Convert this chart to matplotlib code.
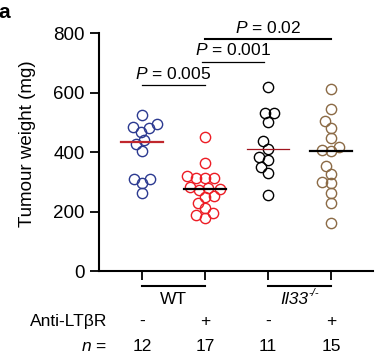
import numpy as np
import matplotlib
matplotlib.use("Agg")
import matplotlib.pyplot as plt

plt.rcParams['font.family'] = ['Liberation Sans', 'DejaVu Sans']
plt.rcParams['mathtext.fontset'] = 'custom'
plt.rcParams['mathtext.it'] = 'Liberation Sans:italic'
plt.rcParams['mathtext.rm'] = 'Liberation Sans'

# tumour weights (mg) per group
wt_ctrl = [524, 468, 480, 483, 494, 427, 440, 404, 308, 297, 308, 261]
wt_anti = [451, 362, 312, 319, 312, 314, 272, 278, 275, 283, 230, 250, 252, 211, 180, 188, 194]
il33_ctrl = [620, 530, 532, 502, 438, 412, 375, 384, 349, 330, 255]
il33_anti = [611, 544, 505, 482, 449, 407, 404, 416, 353, 328, 295, 300, 261, 228, 162]
groups = [wt_ctrl, wt_anti, il33_ctrl, il33_anti]

treat = ['-', '+', '-', '+']
pvals = ['0.005', '0.001', '0.02']
pairs = [(0, 1), (0.95, 1.93), (1, 3)]
p_heights = [625, 704, 780]

colors = ['#2b3990', '#ed1c24', '#000000', '#8b6a45']
med_colors = ['#c0272d', '#000000', '#a0141e', '#000000']
med_lw = [1.6, 1.6, 0.9, 1.6]

fig = plt.figure(figsize=(3.81, 3.60), dpi=100)
ax = fig.add_axes([0.261, 0.247, 0.718, 0.661])
ax.set_xlim(-0.675, 3.667)
ax.set_ylim(0, 800)


def swarm(values, d, sx, sy):
    # simple beeswarm: place each point at the smallest offset without overlap
    order = np.argsort(values)
    placed = []
    offs = np.zeros(len(values))
    for i in order:
        y = values[i] * sy
        cands = [0.0]
        for (px, py) in placed:
            dy = abs(y - py)
            if dy < d:
                dx = np.sqrt(d * d - dy * dy)
                cands += [px + dx, px - dx]
        cands.sort(key=lambda c: (abs(c), c))
        for c in cands:
            if all((c - px) ** 2 + (y - py) ** 2 >= d * d - 1e-6 for (px, py) in placed):
                break
        placed.append((c, y))
        offs[i] = c / sx
    return offs


sx = 0.718 * 381 / (3.667 + 0.675)
sy = 0.661 * 360 / 800
for i, vals in enumerate(groups):
    vals = np.array(vals, dtype=float)
    xo = swarm(vals, 9.0, sx, sy)
    ax.plot(i + xo, vals, 'o', ms=7.4, mfc='none', mec=colors[i], mew=1.0, ls='none')
    m = np.median(vals)
    ax.plot([i - 0.33, i + 0.33], [m, m], color=med_colors[i], lw=med_lw[i], zorder=3)

for (a, b), h, p, lw in zip(pairs, p_heights, pvals, [0.9, 0.9, 1.5]):
    ax.plot([a, b], [h, h], color='black', lw=lw, clip_on=False)
    ax.text((a + b) / 2, h + 38, r'$P$ = ' + p, ha='center', va='center',
            fontsize=12.5, clip_on=False)

for s in ['top', 'right']:
    ax.spines[s].set_visible(False)
for s in ['left', 'bottom']:
    ax.spines[s].set_linewidth(1.5)
ax.set_yticks([0, 200, 400, 600, 800])
ax.set_xticks([0, 1, 2, 3])
ax.set_xticklabels([])
ax.tick_params(axis='both', length=6.5, width=1.3, labelsize=13.5, pad=4)

tr = ax.get_xaxis_transform()
for k in range(2):
    ax.plot([2 * k, 2 * k + 1], [-0.061, -0.061], color='black', lw=1.5,
            transform=tr, clip_on=False)
ax.text(0.5, -0.12, 'WT', ha='center', va='center', fontsize=12.5, transform=tr)
t_il = ax.text(2.42, -0.12, 'Il33', ha='center', va='center', fontsize=12.5,
               style='italic', transform=tr)
ax.annotate('-/-', xy=(1.0, 0.95), xycoords=t_il, ha='left', va='center',
            fontsize=8, style='italic')
ax.text(-0.556, -0.212, 'Anti-LTβR', ha='right', va='center', fontsize=12.5, transform=tr)
ax.text(-0.556, -0.318, r'$n$ =', ha='right', va='center', fontsize=12.5, transform=tr)
for i in range(4):
    ax.text(i, -0.212, treat[i], ha='center', va='center', fontsize=12.5, transform=tr)
    ax.text(i, -0.318, str(len(groups[i])), ha='center', va='center', fontsize=12.5,
            transform=tr)

fig.text(28 / 381, 1 - 144 / 360, 'Tumour weight (mg)', rotation=90, ha='center',
         va='center', fontsize=13.5)
fig.text(-0.004, 1 - 13 / 360, 'a', fontweight='bold', fontsize=15, ha='left', va='center')

fig.savefig('out.png', dpi=100)
